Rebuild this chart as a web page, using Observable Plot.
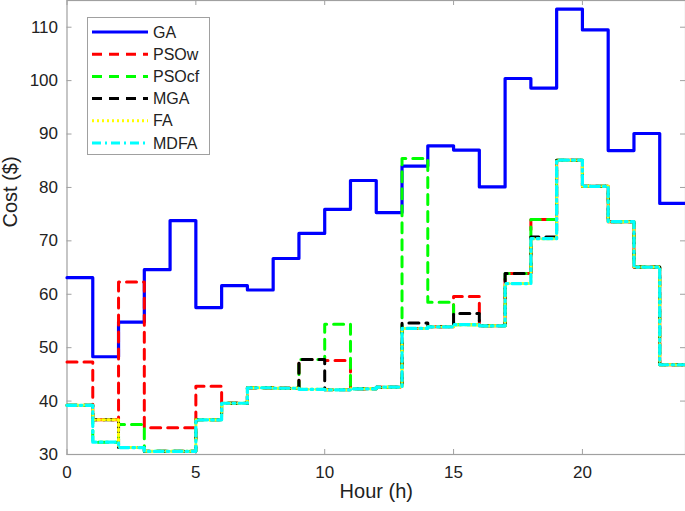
<!DOCTYPE html>
<html><head><meta charset="utf-8">
<script src="https://cdn.jsdelivr.net/npm/d3@7"></script>
<script src="https://cdn.jsdelivr.net/npm/@observablehq/plot@0.6"></script>
<style>
body{margin:0;background:#fff;}
#wrap{position:relative;width:685px;height:511px;font-family:"Liberation Sans",Arial,sans-serif;}
#legend{position:absolute;left:87px;top:17px;}
</style></head><body><div id="wrap"></div>
<script>
// hour edges (step boundaries)
const hourEdges = [0,1,2,3,4,5,6,7,8,9,10,11,12,13,14,15,16,17,18,19,20,21,22,23,24];
const seriesNames = ["GA","PSOw","PSOcf","MGA","FA","MDFA"];
const GA    = [63.1,48.3,54.8,64.6,73.8,57.5,61.6,60.8,66.7,71.4,75.9,81.3,75.3,84.0,87.8,87.0,80.1,100.4,98.6,113.4,109.5,86.9,90.1,77.0];
const PSOw  = [47.3,36.5,62.3,35.0,35.0,42.8,39.6,42.5,42.4,47.8,47.6,42.3,42.6,53.6,53.9,59.6,54.1,63.9,74.0,85.1,80.2,73.6,65.1,46.8];
const PSOcf = [39.2,32.3,35.6,30.6,30.6,36.5,39.6,42.5,42.4,47.8,54.4,42.3,42.6,85.4,58.5,54.3,54.1,63.9,74.0,85.1,80.2,73.6,65.1,46.8];
const MGA   = [39.2,36.5,31.3,30.6,30.6,36.5,39.6,42.5,42.4,47.8,42.1,42.3,42.6,54.6,53.9,56.4,54.1,63.9,70.7,85.1,80.2,73.6,65.1,46.8];
const FA    = [39.2,36.5,31.3,30.6,30.6,36.5,39.6,42.5,42.4,42.2,42.1,42.3,42.6,53.6,53.9,54.3,54.1,62.0,70.4,85.1,80.2,73.6,65.1,46.8];
const MDFA  = [39.2,32.3,31.3,30.6,30.6,36.5,39.6,42.5,42.4,42.2,42.1,42.3,42.6,53.6,53.9,54.3,54.1,62.0,70.4,85.1,80.2,73.6,65.1,46.8];
const xTicks = [0,5,10,15,20];
const yTicks = [30,40,50,60,70,80,90,100,110];

const seriesValues = {GA, PSOw, PSOcf, MGA, FA, MDFA};
const styles = {
  GA:    {stroke:"#0000ff", strokeWidth:3.2, dash:null},
  PSOw:  {stroke:"#ff0000", strokeWidth:3, dash:"10,7"},
  PSOcf: {stroke:"#00ff00", strokeWidth:3, dash:"10,7"},
  MGA:   {stroke:"#000000", strokeWidth:3, dash:"10,7"},
  FA:    {stroke:"#ffff00", strokeWidth:3, dash:"2,3"},
  MDFA:  {stroke:"#00ffff", strokeWidth:3.2, dash:"9,4,2,4"}
};

function stepData(vals){
  const pts = hourEdges.map((h,i)=>({h, v: vals[Math.min(i, vals.length-1)]}));
  return pts;
}

const W = 685, H = 511, mL = 66.5, mR = 0, mT = 0, mB = 57;
const innerW = W - mL - mR, innerH = H - mT - mB;
const axisColor = "#a0a0a0";

const lineMarks = seriesNames.map(name => {
  const s = styles[name];
  const o = {x:"h", y:"v", stroke:s.stroke, strokeWidth:s.strokeWidth, curve:"step-after"};
  if (s.dash) o.strokeDasharray = s.dash;
  return Plot.line(stepData(seriesValues[name]), o);
});

const chart = Plot.plot({
  width: W, height: H,
  marginLeft: mL, marginRight: mR, marginTop: mT, marginBottom: mB,
  style: {fontFamily:'"Liberation Sans", Arial, sans-serif', fontSize:"17px", color:"#222", background:"#fff"},
  x: {domain:[0,24]},
  y: {domain:[30,115]},
  marks: [
    Plot.frame({stroke:axisColor, strokeWidth:1.2}),
    Plot.ruleX(xTicks, {stroke:axisColor, insetTop: innerH-5}),
    Plot.ruleX(xTicks, {stroke:axisColor, insetBottom: innerH-5}),
    Plot.ruleY(yTicks, {stroke:axisColor, insetRight: innerW-5}),
    Plot.ruleY(yTicks, {stroke:axisColor, insetLeft: innerW-5}),
    Plot.axisX({ticks:xTicks, tickSize:0, tickPadding:11, label:null, fill:"#222"}),
    Plot.axisY({ticks:yTicks, tickSize:0, tickPadding:9, label:null, fill:"#222"}),
    ...lineMarks,
    Plot.text(["Hour (h)"], {frameAnchor:"bottom", dy:43, fontSize:20, fill:"#222"}),
    Plot.text(["Cost ($)"], {frameAnchor:"left", dx:-56, rotate:-90, fontSize:20, fill:"#222"})
  ]
});
document.getElementById("wrap").appendChild(chart);

// legend overlay
const lg = d3.select("#wrap").append("svg").attr("id","legend")
  .attr("width",124).attr("height",139);
lg.append("rect").attr("x",0.5).attr("y",0.5).attr("width",122).attr("height",137)
  .attr("fill","#fff").attr("stroke","#a0a0a0");
seriesNames.forEach((name,i)=>{
  const y = 15 + i*22.2;
  const s = styles[name];
  lg.append("line").attr("x1",5).attr("x2",61).attr("y1",y).attr("y2",y)
    .attr("stroke",s.stroke).attr("stroke-width",s.strokeWidth)
    .attr("stroke-dasharray",s.dash);
  lg.append("text").attr("x",66).attr("y",y).attr("dy","0.35em")
    .attr("font-size",16).attr("fill","#222")
    .attr("font-family",'"Liberation Sans", Arial, sans-serif').text(name);
});
</script></body></html>
